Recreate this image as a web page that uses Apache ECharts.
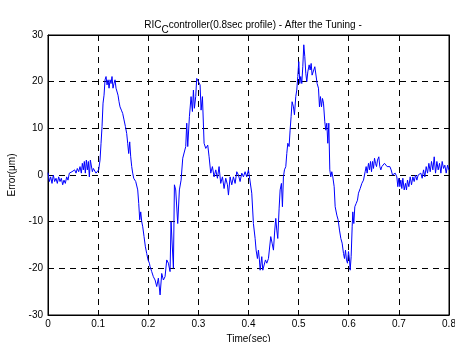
<!DOCTYPE html>
<html>
<head>
<meta charset="utf-8">
<script src="https://cdn.jsdelivr.net/npm/echarts@6/dist/echarts.min.js"></script>
<style>
  html, body { margin: 0; padding: 0; background: #fff; }
  #chart { width: 455px; height: 342px; }
</style>
</head>
<body>
<div id="chart"></div>
<script>
// time axis (sec)
const timeSec = [
  0.0000, 0.0027, 0.0053, 0.0080, 0.0106, 0.0133, 0.0160, 0.0186, 0.0213, 0.0240,
  0.0266, 0.0293, 0.0319, 0.0346, 0.0373, 0.0399, 0.0426, 0.0452, 0.0479, 0.0506,
  0.0532, 0.0559, 0.0585, 0.0612, 0.0639, 0.0665, 0.0685, 0.0705, 0.0725, 0.0745,
  0.0765, 0.0785, 0.0805, 0.0825, 0.0845, 0.0865, 0.0885, 0.0905, 0.0931, 0.0958,
  0.0985, 0.1011, 0.1038, 0.1058, 0.1078, 0.1098, 0.1118, 0.1138, 0.1158, 0.1178,
  0.1198, 0.1218, 0.1238, 0.1258, 0.1277, 0.1297, 0.1317, 0.1337, 0.1357, 0.1377,
  0.1397, 0.1417, 0.1437, 0.1464, 0.1490, 0.1517, 0.1544, 0.1570, 0.1590, 0.1610,
  0.1630, 0.1650, 0.1670, 0.1690, 0.1710, 0.1730, 0.1750, 0.1770, 0.1790, 0.1810,
  0.1830, 0.1850, 0.1870, 0.1890, 0.1916, 0.1943, 0.1969, 0.1996, 0.2023,
  0.2036, 0.2069, 0.2102, 0.2136, 0.2169, 0.2202, 0.2236, 0.2269, 0.2302, 0.2335,
  0.2369, 0.2402, 0.2435, 0.2455, 0.2482, 0.2502, 0.2522, 0.2548, 0.2588, 0.2621,
  0.2655, 0.2688, 0.2721, 0.2748, 0.2768, 0.2788, 0.2821, 0.2854, 0.2881, 0.2901,
  0.2921, 0.2947, 0.2967, 0.3001, 0.3034, 0.3054, 0.3081, 0.3114, 0.3147, 0.3187,
  0.3214, 0.3247, 0.3280, 0.3313, 0.3347, 0.3380, 0.3413, 0.3446, 0.3480, 0.3513,
  0.3546, 0.3580, 0.3600, 0.3633, 0.3666, 0.3699, 0.3733, 0.3766, 0.3799, 0.3832,
  0.3866, 0.3899, 0.3932, 0.3965, 0.3999, 0.4032,
  0.4065, 0.4098, 0.4132, 0.4152, 0.4178, 0.4198, 0.4218, 0.4232, 0.4265, 0.4285,
  0.4311, 0.4338, 0.4365, 0.4398, 0.4418, 0.4444, 0.4471, 0.4498, 0.4524, 0.4544,
  0.4564, 0.4584, 0.4611, 0.4631, 0.4657, 0.4677, 0.4697, 0.4717, 0.4744, 0.4764,
  0.4784, 0.4810, 0.4830, 0.4850, 0.4870, 0.4897, 0.4917, 0.4943, 0.4963, 0.4983,
  0.5003, 0.5023, 0.5043, 0.5063, 0.5083, 0.5103, 0.5123, 0.5143, 0.5163, 0.5183,
  0.5210, 0.5230, 0.5250, 0.5269, 0.5296, 0.5323, 0.5349, 0.5369, 0.5396, 0.5416,
  0.5436, 0.5456, 0.5476, 0.5496, 0.5522, 0.5542, 0.5562, 0.5582, 0.5602, 0.5622,
  0.5642, 0.5662, 0.5682, 0.5709, 0.5729, 0.5762, 0.5788, 0.5815, 0.5842, 0.5868,
  0.5895, 0.5915, 0.5935, 0.5955, 0.5975, 0.5995, 0.6015,
  0.6028, 0.6048, 0.6068, 0.6081, 0.6101, 0.6121, 0.6148, 0.6174, 0.6194, 0.6228,
  0.6261, 0.6294, 0.6327, 0.6347, 0.6367, 0.6394, 0.6414, 0.6434, 0.6454, 0.6474,
  0.6494, 0.6514, 0.6534, 0.6554, 0.6574, 0.6600, 0.6620, 0.6640, 0.6660, 0.6687,
  0.6713, 0.6740, 0.6766, 0.6793, 0.6820, 0.6846, 0.6873, 0.6900, 0.6926, 0.6959,
  0.6979, 0.6999, 0.7019, 0.7039, 0.7059, 0.7079, 0.7106, 0.7132, 0.7152, 0.7172,
  0.7199, 0.7226, 0.7252, 0.7279, 0.7305, 0.7332, 0.7359, 0.7385, 0.7412, 0.7438,
  0.7465, 0.7492, 0.7518, 0.7545, 0.7572, 0.7598, 0.7625, 0.7651, 0.7678, 0.7705,
  0.7731, 0.7758, 0.7784, 0.7811, 0.7838, 0.7864, 0.7891, 0.7917, 0.7944, 0.7971,
  0.7997
];

// tracking error (um)
const errorUm = [
  0.5, -1.4, -0.4, -1.8, 0, -1.4, -0.7, -1.8, -0.4, -1.4,
  -0.7, -2.1, -1.1, -1.8, -0.4, -1.1, 0.4, 0, 0.7, 0.4,
  1.1, 0.4, 1.4, 0.7, 1.8, 0.4, 2.5, 1.1, 2.9, 0.4,
  3.2, 1.1, 2.9, -0.4, 3.2, 3.6, 0.7, 1.4, 1.1, 0.4,
  0.5, 1.1, 3.2, 6.8, 10.4, 15.4, 17.1, 20.4, 21.1, 19.3,
  20.4, 18.6, 20.4, 19.6, 21.1, 18.6, 19.6, 20.4, 18.6, 18.9,
  17.1, 15.7, 14.6, 13.9, 13.2, 11.8, 10.4, 8.9, 6.8, 4.6,
  7.1, 3.9, 1.8, 0.4, -0.7, -0.4, -1.4, -1.1, -3.2, -6.1,
  -9.6, -7.9, -10, -11.1, -13.2, -15.4, -16.8, -18.2, -18.9,
  -19.6, -20.7, -21.8, -22.5, -23.9, -22.1, -25.7, -21.1, -22.5, -21.8,
  -18.2, -18.9, -20.7, -10, -10, -20, -2.1, -3.2, -10.4, -3.2,
  -1.1, 3.6, 3.9, 6.1, 11.1, 6.1, 12.5, 16.8, 13.6, 18.2,
  14.3, 16.8, 20.7, 21.1, 19.3, 13.9, 16.8, 6.8, 5.7, 6.4,
  3.9, 0.4, 1.8, -0.4, 1.1, -0.7, 1.8, -1.8, -0.4, -2.9,
  -0.7, -2.1, -4.3, -0.4, -2.1, -0.4, -1.8, 0.7, 0, -1.4,
  0.4, -0.4, 0.7, -0.4, 1.1, 0.7,
  -3.9, -10.4, -13.6, -16.1, -17.9, -16.1, -18.2, -20.4, -17.5, -20.4,
  -20.7, -18.2, -18.9, -17.9, -17.5, -13.2, -14.6, -16.1, -11.8, -9.3,
  -11.8, -13.6, -7.1, -3.2, -1.8, -6.8, -0.4, 1.1, 1.8, 4.6,
  6.8, 6.1, 9.6, 12.5, 15.7, 14.6, 12.9, 16.8, 18.2, 21.1,
  24.3, 19.6, 21.1, 19.6, 23.2, 27.9, 25.4, 21.8, 20, 22.1,
  23.6, 22.5, 23.9, 21.4, 21.8, 23.2, 22.9, 19.6, 18.6, 14.6,
  16.8, 14.6, 16.4, 15.4, 11.4, 9.6, 11.1, 6.8, 11.1, 1.1,
  -0.4, 0.7, -0.4, -2.5, -6.8, -8.6, -9.6, -11.8, -13.6, -14.6,
  -16.8, -17.9, -16.1, -18.2, -18.9, -16.4, -18.2,
  -20.4, -17.5, -11.1, -7.9, -10.4, -6.8, -6.1, -5.4, -3.9, -2.9,
  -1.8, -1.1, 0.7, 1.8, 0.4, 2.5, 1.1, 2.9, 0.7, 2.9,
  1.4, 3.6, 2.5, 1.8, 3.2, 3.9, 1.8, 1.1, 1.8, 1.4,
  2.5, 2.1, 1.8, 2.1, 1.8, 1.1, 0, 0.4, 0.4, -0.4,
  -2.5, -0.7, -2.5, -1.1, -2.9, -0.7, -3.2, -1.8, -3.2, -1.1,
  -2.5, -0.4, -2.1, -0.4, -1.4, 0, -1.1, 0, -0.4, 0.4,
  -0.7, 1.1, -0.4, 1.8, 0.4, 2.5, 0.7, 2.9, 1.1, 3.9,
  0.4, 2.9, 1.1, 2.5, 0.4, 2.9, 1.4, 2.1, 0.4, 2.1,
  1.1
];

const chart = echarts.init(document.getElementById("chart"));
const font = "Liberation Sans, Arial, sans-serif";
const gridLine = { show: true, lineStyle: { color: "#000", type: [6, 5], width: 1 } };

chart.setOption({
  animation: false,
  backgroundColor: "#fff",
  textStyle: { fontFamily: font },
  title: {
    text: "RIC{sub|C}controller(0.8sec profile) - After the Tuning -",
    left: 248,
    textAlign: "center",
    top: 11,
    textStyle: {
      fontSize: 10,
      fontWeight: "normal",
      color: "#000",
      fontFamily: font,
      rich: { sub: { fontSize: 10, padding: [9, 0, 0, 0], color: "#000", fontFamily: font } },
    },
  },
  grid: {
    left: 48,
    right: 6,
    top: 35,
    bottom: 27,
    outerBoundsMode: "none",
    containLabel: false,
    show: true,
    borderColor: "#000",
    borderWidth: 1,
  },
  xAxis: [
    {
      type: "value",
      min: 0,
      max: 0.8,
      interval: 0.1,
      name: "Time(sec)",
      nameLocation: "middle",
      nameGap: 18,
      nameTextStyle: { fontSize: 10, color: "#000", fontFamily: font },
      axisLine: { onZero: false, lineStyle: { color: "#000" } },
      axisTick: { inside: true, length: 4, lineStyle: { color: "#000" } },
      axisLabel: { fontSize: 10, color: "#000", margin: 4, fontFamily: font },
      splitLine: gridLine,
    },
    {
      type: "value",
      position: "top",
      min: 0,
      max: 0.8,
      interval: 0.1,
      axisLine: { onZero: false, lineStyle: { color: "#000" } },
      axisTick: { inside: true, length: 4, lineStyle: { color: "#000" } },
      axisLabel: { show: false },
      splitLine: { show: false },
    },
  ],
  yAxis: [
    {
      type: "value",
      min: -30,
      max: 30,
      interval: 10,
      name: "Error(\u03bcm)",
      nameLocation: "middle",
      nameGap: 31,
      nameTextStyle: { fontSize: 10, color: "#000", fontFamily: font },
      axisLine: { show: true, onZero: false, lineStyle: { color: "#000" } },
      axisTick: { show: true, inside: true, length: 4, lineStyle: { color: "#000" } },
      axisLabel: { fontSize: 10, color: "#000", margin: 5, fontFamily: font },
      splitLine: gridLine,
    },
    {
      type: "value",
      position: "right",
      min: -30,
      max: 30,
      interval: 10,
      axisLine: { show: true, onZero: false, lineStyle: { color: "#000" } },
      axisTick: { show: true, inside: true, length: 4, lineStyle: { color: "#000" } },
      axisLabel: { show: false },
      splitLine: { show: false },
    },
  ],
  series: [
    {
      type: "line",
      data: timeSec.map((t, i) => [t, errorUm[i]]),
      showSymbol: false,
      symbol: "none",
      lineStyle: { color: "#0000ff", width: 1 },
    },
  ],
});
</script>
</body>
</html>
